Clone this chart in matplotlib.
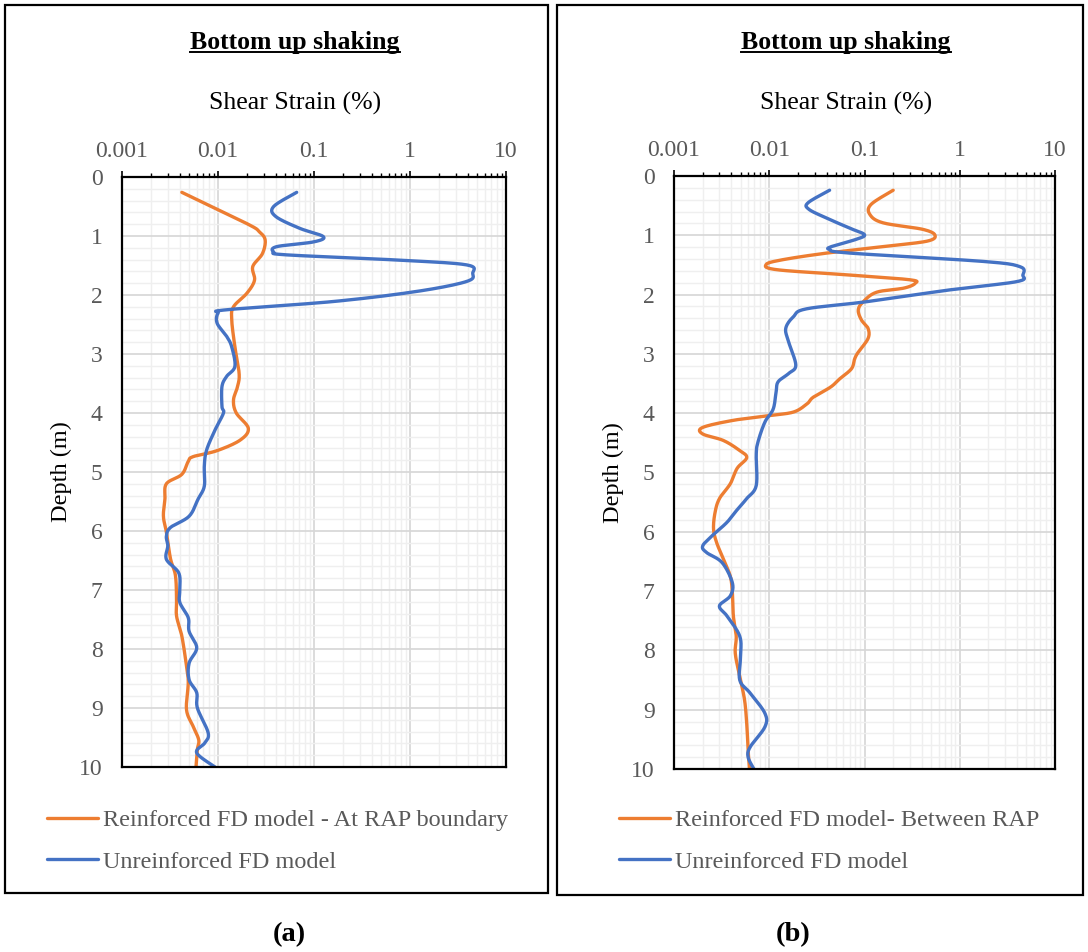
import matplotlib
matplotlib.use("Agg")
import matplotlib.pyplot as plt
import numpy as np
from matplotlib.lines import Line2D
from matplotlib.patches import Rectangle
from matplotlib.ticker import FixedLocator, LogLocator, NullFormatter

plt.rcParams["font.family"] = ["Liberation Serif", "DejaVu Serif"]

ORANGE = "#ED7D31"
BLUE = "#4472C4"
GREY_TEXT = "#595959"

# panel (a): reinforced FD model at RAP boundary
a_orange_strain = [0.0042, 0.020, 0.027, 0.031, 0.029, 0.023, 0.024, 0.020, 0.0145, 0.0139,
                   0.015, 0.0166, 0.016, 0.0145, 0.0155, 0.0207, 0.017, 0.0097, 0.0055, 0.0049,
                   0.0042, 0.0029, 0.0028, 0.0027, 0.0029, 0.0032, 0.0036, 0.0037, 0.0037, 0.0042,
                   0.0047, 0.0049, 0.0047, 0.0055, 0.0063, 0.0061, 0.0059]
a_orange_depth = [0.26, 0.79, 0.93, 1.07, 1.30, 1.52, 1.75, 1.97, 2.20, 2.42,
                  2.88, 3.33, 3.55, 3.78, 4.00, 4.26, 4.46, 4.64, 4.74, 4.82,
                  5.04, 5.20, 5.46, 5.75, 6.02, 6.47, 6.75, 7.15, 7.44, 7.78,
                  8.29, 8.57, 9.03, 9.31, 9.54, 9.70, 10.0]

# panel (a): unreinforced FD model
a_blue_strain = [0.066, 0.038, 0.040, 0.071, 0.125, 0.099, 0.041, 0.038, 0.052, 0.79,
                 3.9, 4.5, 3.9, 1.17, 0.16, 0.0123, 0.010, 0.0098, 0.0123, 0.0139,
                 0.015, 0.0123, 0.011, 0.011, 0.0114, 0.0093, 0.0076, 0.0072, 0.0072, 0.0062,
                 0.0050, 0.0032, 0.0029, 0.0030, 0.0029, 0.0039, 0.0040, 0.0040, 0.0049, 0.0050,
                 0.0060, 0.0050, 0.0050, 0.0060, 0.0061, 0.0079, 0.0073, 0.0060, 0.0093]
a_blue_depth = [0.26, 0.50, 0.67, 0.87, 1.01, 1.10, 1.18, 1.27, 1.32, 1.41,
                1.49, 1.63, 1.77, 1.94, 2.11, 2.25, 2.31, 2.48, 2.70, 2.88,
                3.21, 3.38, 3.55, 3.89, 4.00, 4.29, 4.63, 4.90, 5.24, 5.46,
                5.75, 5.94, 6.09, 6.25, 6.48, 6.71, 6.99, 7.21, 7.47, 7.70,
                7.98, 8.24, 8.52, 8.74, 9.00, 9.42, 9.59, 9.76, 10.0]

# panel (b): reinforced FD model between RAP
b_orange_strain = [0.20, 0.117, 0.114, 0.157, 0.41, 0.55, 0.45, 0.157, 0.040, 0.014,
                   0.0093, 0.012, 0.070, 0.30, 0.34, 0.26, 0.134, 0.097, 0.086, 0.093,
                   0.109, 0.109, 0.086, 0.079, 0.073, 0.055, 0.044, 0.029, 0.025, 0.018,
                   0.010, 0.0042, 0.0020, 0.0020, 0.0033, 0.0049, 0.0058, 0.0046, 0.0039, 0.0030,
                   0.0027, 0.0026, 0.0028, 0.0033, 0.0039, 0.0041, 0.0042, 0.0045, 0.0044, 0.0049,
                   0.0055, 0.0058, 0.0060, 0.0062]
b_orange_depth = [0.24, 0.48, 0.65, 0.79, 0.90, 1.00, 1.10, 1.19, 1.30, 1.41,
                  1.49, 1.58, 1.67, 1.75, 1.81, 1.89, 1.96, 2.12, 2.26, 2.43,
                  2.57, 2.74, 2.97, 3.08, 3.25, 3.42, 3.56, 3.73, 3.84, 3.98,
                  4.04, 4.12, 4.24, 4.35, 4.46, 4.63, 4.75, 4.93, 5.19, 5.44,
                  5.67, 5.95, 6.18, 6.46, 6.75, 7.03, 7.42, 7.76, 8.05, 8.44,
                  8.83, 9.23, 9.68, 10.0]

# panel (b): unreinforced FD model
b_blue_strain = [0.043, 0.0256, 0.026, 0.040, 0.070, 0.10, 0.081, 0.045, 0.043, 0.070,
                 1.75, 4.3, 4.6, 4.0, 0.79, 0.105, 0.0246, 0.018, 0.0149, 0.016,
                 0.019, 0.016, 0.0124, 0.0118, 0.011, 0.0090, 0.0076, 0.0073, 0.0073, 0.0058,
                 0.0047, 0.0036, 0.0025, 0.0020, 0.0022, 0.0032, 0.0041, 0.0039, 0.0030, 0.0036,
                 0.0049, 0.0050, 0.0049, 0.0063, 0.0090, 0.0090, 0.0063, 0.0060, 0.0069]
b_blue_depth = [0.24, 0.45, 0.56, 0.71, 0.88, 0.99, 1.07, 1.19, 1.24, 1.30,
                1.44, 1.53, 1.67, 1.78, 1.92, 2.12, 2.24, 2.37, 2.57, 2.80,
                3.19, 3.33, 3.47, 3.64, 3.93, 4.15, 4.49, 4.70, 5.22, 5.44,
                5.61, 5.84, 6.07, 6.24, 6.35, 6.52, 6.86, 7.08, 7.25, 7.42,
                7.76, 8.10, 8.50, 8.72, 9.06, 9.29, 9.63, 9.80, 10.0]

x_ticks = [0.001, 0.01, 0.1, 1, 10]
x_tick_labels = ["0.001", "0.01", "0.1", "1", "10"]
y_ticks = list(range(0, 11))

W, H = 1088, 952


def fx(px):
    return px / W


def fy(py):
    return 1 - py / H


def smooth(strain, depth, n=16):
    # Catmull-Rom curve through the points, like Excel's "smoothed line"
    p = np.column_stack([np.log10(strain), depth])
    p = np.vstack([p[0], p, p[-1]])
    t = np.linspace(0, 1, n, endpoint=False)[:, None]
    out = []
    for i in range(1, len(p) - 2):
        p0, p1, p2, p3 = p[i - 1], p[i], p[i + 1], p[i + 2]
        seg = 0.5 * ((2 * p1) + (-p0 + p2) * t + (2 * p0 - 5 * p1 + 4 * p2 - p3) * t ** 2
                     + (-p0 + 3 * p1 - 3 * p2 + p3) * t ** 3)
        out.append(seg)
    out.append(p[-2][None, :])
    out = np.vstack(out)
    return 10 ** out[:, 0], out[:, 1]


def draw_panel(fig, rect, orange, blue, orange_label, tag, box, legend_x, cx, tag_x):
    left, top, right, bottom = rect
    ax = fig.add_axes([fx(left), fy(bottom), fx(right - left), (bottom - top) / H])
    ax.set_xscale("log")
    ax.set_xlim(0.001, 10)
    ax.set_ylim(10, 0)
    ax.xaxis.set_major_locator(FixedLocator(x_ticks))
    ax.set_xticklabels(x_tick_labels)
    ax.xaxis.set_minor_locator(LogLocator(base=10, subs=np.arange(2, 10)))
    ax.xaxis.set_minor_formatter(NullFormatter())
    ax.set_yticks(y_ticks)
    ax.yaxis.set_minor_locator(FixedLocator(np.arange(0, 10.01, 0.2)))
    ax.xaxis.tick_top()
    ax.tick_params(axis="x", which="major", direction="out", length=4.5, width=1.2,
                   labelsize=17, labelcolor=GREY_TEXT, pad=6)
    ax.tick_params(axis="x", which="minor", direction="out", length=3, width=1.0)
    ax.tick_params(axis="y", which="both", length=0, labelsize=17,
                   labelcolor=GREY_TEXT, pad=14)
    ax.grid(which="minor", color="#efefef", linewidth=1.0)
    ax.grid(which="major", color="#d6d6d6", linewidth=1.2)
    ax.set_axisbelow(True)
    for sp in ax.spines.values():
        sp.set_color("black")
        sp.set_linewidth(1.6)

    ox, oy = smooth(*orange)
    bx, by = smooth(*blue)
    ax.plot(ox, oy, color=ORANGE, lw=2.4, solid_joinstyle="round",
            solid_capstyle="round", label=orange_label)
    ax.plot(bx, by, color=BLUE, lw=2.4, solid_joinstyle="round",
            solid_capstyle="round", label="Unreinforced FD model")

    ax.set_ylabel("Depth (m)", fontsize=17.5, labelpad=5)
    fig.text(fx(cx), fy(103), "Shear Strain (%)", fontsize=18.5, ha="center", va="center")

    t = fig.text(fx(cx), fy(42), "Bottom up shaking", fontsize=18.5, fontweight="bold",
                 ha="center", va="center")

    leg = fig.legend(handles=ax.get_lines(), loc="upper left",
                     bbox_to_anchor=(fx(legend_x), fy(809)), frameon=False,
                     fontsize=17.5, handlelength=2.1, handletextpad=0.2,
                     labelspacing=0.82, borderpad=0, borderaxespad=0)
    for txt in leg.get_texts():
        txt.set_color(GREY_TEXT)

    bx0, by0, bx1, by1 = box
    fig.add_artist(Rectangle((fx(bx0), fy(by1)), fx(bx1 - bx0), (by1 - by0) / H,
                             transform=fig.transFigure, fill=False, edgecolor="black",
                             linewidth=1.6))
    fig.text(fx(tag_x), fy(935), tag, fontsize=20.5, fontweight="bold", ha="center",
             va="center")
    return t


fig = plt.figure(figsize=(W / 100, H / 100), dpi=100)

titles = [
    draw_panel(fig, (122, 177, 506, 767), (a_orange_strain, a_orange_depth),
               (a_blue_strain, a_blue_depth), "Reinforced FD model - At RAP boundary",
               "(a)", (5, 5, 548, 893), 47, 295, 289),
    draw_panel(fig, (674, 176, 1055, 769), (b_orange_strain, b_orange_depth),
               (b_blue_strain, b_blue_depth), "Reinforced FD model- Between RAP",
               "(b)", (557, 5, 1083, 895), 619, 846, 793),
]

# underline the panel titles
fig.canvas.draw()
renderer = fig.canvas.get_renderer()
for t in titles:
    bb = t.get_window_extent(renderer)
    yline = bb.y0 + 2
    fig.add_artist(Line2D([bb.x0 / W, bb.x1 / W], [yline / H, yline / H],
                          transform=fig.transFigure, color="black", lw=1.4))

fig.savefig("out.png", dpi=100)
